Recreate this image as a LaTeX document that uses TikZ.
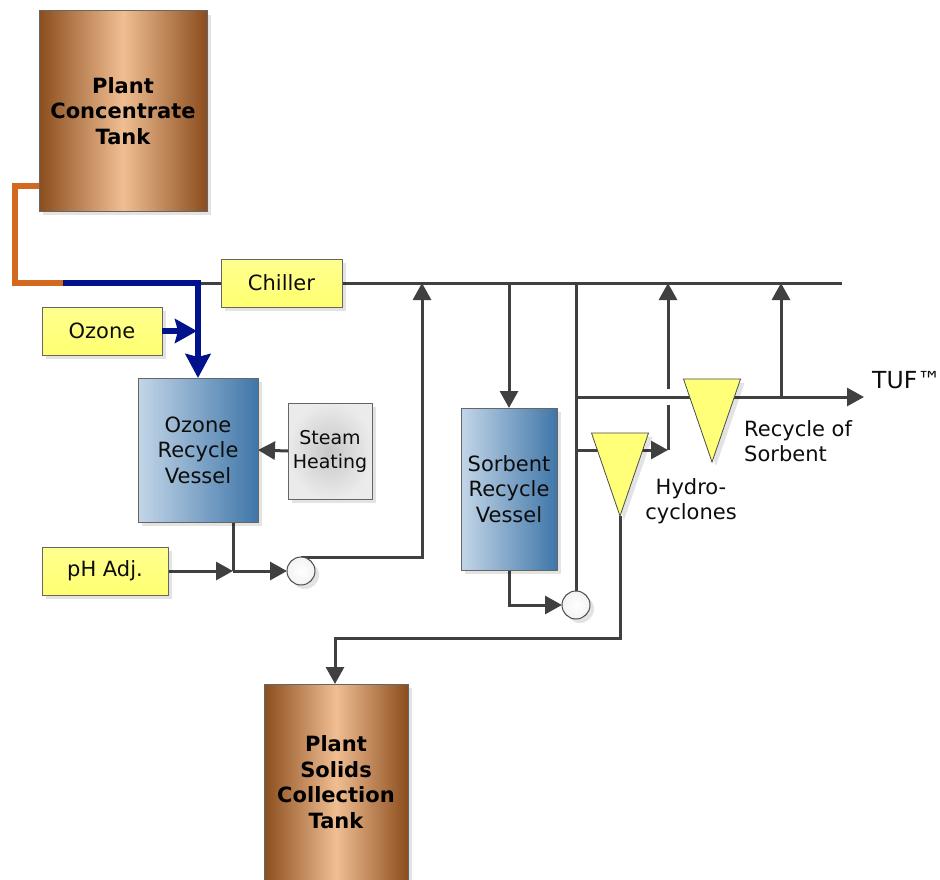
\documentclass[tikz,border=0pt]{standalone}
\usepackage{fontspec}
\setmainfont{DejaVu Sans}
\usetikzlibrary{arrows.meta,shapes.geometric,shadows,backgrounds,calc}
\definecolor{lineg}{HTML}{404040}
\definecolor{blueP}{HTML}{00138C}
\definecolor{orangeP}{HTML}{D2691E}
\definecolor{brown1}{HTML}{8B4D1D}
\definecolor{brown2}{HTML}{F0BE92}
\definecolor{blue1}{HTML}{C3D6E8}
\definecolor{blue2}{HTML}{3F76A8}
\definecolor{yel1}{HTML}{FFFF90}
\definecolor{yel2}{HTML}{FFFF70}
\definecolor{yel3}{HTML}{FFFF78}
\tikzset{
  shdw/.style={general shadow={fill=black,fill opacity=.11,draw=none,shadow xshift=4pt,shadow yshift=-4pt}},
  box/.style={shdw,draw=black!60,line width=1pt,inner sep=0pt,outer sep=0pt,align=center,
    font=\fontsize{21}{25.5}\selectfont,text=black!95},
  yellowbox/.style={box,top color=yel1,bottom color=yel2},
  tank/.style={box,left color=brown1,right color=brown1,middle color=brown2,font=\fontsize{21}{25.5}\selectfont\bfseries,text=black},
  vessel/.style={box,left color=blue1,right color=blue2},
  steambox/.style={box,font=\fontsize{19}{24}\selectfont,inner color=black!22,outer color=black!8},
  pumpc/.style={shdw,circle,draw=black!70,line width=1pt,minimum size=28pt,inner sep=0pt,outer sep=0pt,inner color=white,outer color=black!5},
  cyclone/.style={shdw,isosceles triangle,isosceles triangle apex angle=37.5,isosceles triangle stretches,shape border rotate=-90,
    draw=black!70,line width=.8pt,fill=yel3,inner sep=0pt,outer sep=0pt,minimum height=83pt,minimum width=57pt,anchor=apex},
  pipe/.style={draw=lineg,line width=3pt},
  flow/.style={pipe,-{Triangle[length=17pt,width=18pt]}},
  bluep/.style={draw=blueP,line width=6pt},
  orangep/.style={draw=orangeP,line width=6pt},
  lbl/.style={align=left,inner sep=0pt,font=\fontsize{21}{25.5}\selectfont,text=black!95}
}
\begin{document}
\begin{tikzpicture}[x=1pt,y=-1pt]
\useasboundingbox (0,0) rectangle (940,880);
\clip (0,0) rectangle (940,880);
% nodes
\node[tank,minimum width=168pt,minimum height=200pt] (ctank) at (123,111) {Plant\\Concentrate\\Tank};
\node[yellowbox,minimum width=121pt,minimum height=48pt] (chiller) at (281.5,283) {Chiller};
\node[yellowbox,minimum width=120pt,minimum height=48pt] (ozone) at (102,331) {Ozone};
\node[vessel,minimum width=120pt,minimum height=144pt] (ovessel) at (198,450) {Ozone\\Recycle\\Vessel};
\node[steambox,minimum width=84pt,minimum height=96pt] (steam) at (330,451) {Steam\\Heating};
\node[yellowbox,minimum width=126pt,minimum height=48pt] (ph) at (105,571) {pH Adj.};
\node[pumpc] (p1) at (301,571) {};
\node[vessel,minimum width=96pt,minimum height=162pt] (svessel) at (509,489) {Sorbent\\Recycle\\Vessel};
\node[pumpc] (p2) at (576,605) {};
\node[cyclone] (c1) at (620,516) {};
\node[cyclone] (c2) at (712,462) {};
\node[tank,minimum width=144pt,minimum height=196pt] (stank) at (336,782) {Plant\\Solids\\Collection\\Tank};
\node[lbl,anchor=west,font=\fontsize{23.5}{25.5}\selectfont] (tuf) at (872,380) {TUF™};
\node[lbl,anchor=west] (recyc) at (744,441) {Recycle of\\Sorbent};
\node[lbl,align=center] (hydro) at (691,501) {Hydro-\\cyclones};
% free ends and junctions
\coordinate (bend1) at (15,186);
\coordinate (bend2) at (15,283);
\coordinate (ojoin) at (63,283);
\coordinate (ocorner) at (198,283);
\coordinate (mainend) at (842,283);
\coordinate (phjoin) at (233,571);
\coordinate (tufend) at (864,397);
\begin{scope}[on background layer]
\draw[pipe] (ocorner) -- (chiller.west);
\draw[pipe] (chiller.east) -- (mainend);
\draw[flow] (p1.north) -- (422,557) -- (422,283);
\draw[flow] (509,283) -- (svessel.north);
\draw[flow] (svessel.south) -- (509,605) -- (p2.west);
\draw[pipe] (p2.north) -- (576,283);
\draw[flow] (576,397) -- (tufend);
\draw[flow] (576,450) -- (668,450);
\draw[pipe] (668,450) -- (668,405);
\draw[flow] (668,389) -- (668,283);
\draw[flow] (781,397) -- (781,283);
\draw[flow] (c1.apex) -- (620,638) -- (335,638) -- (335,684);
\draw[flow] (steam.west) -- (ovessel.east);
\draw[flow] (ph.east) -- (phjoin);
\draw[pipe] (233,522) -- (phjoin);
\draw[flow] (phjoin) -- (p1.west);
\end{scope}
\draw[orangep,line cap=butt,line join=miter] (ctank.west |- bend1) -- (bend1) -- (bend2) -- (ojoin);
\draw[bluep,line join=miter,-{Stealth[length=24pt,width=25pt,inset=3pt]}] (ojoin) -- (ocorner) -- (ovessel.north);
\draw[bluep,-{Stealth[length=22pt,width=24pt,inset=3pt]}] (ozone.east) -- (197,331);
\end{tikzpicture}
\end{document}
